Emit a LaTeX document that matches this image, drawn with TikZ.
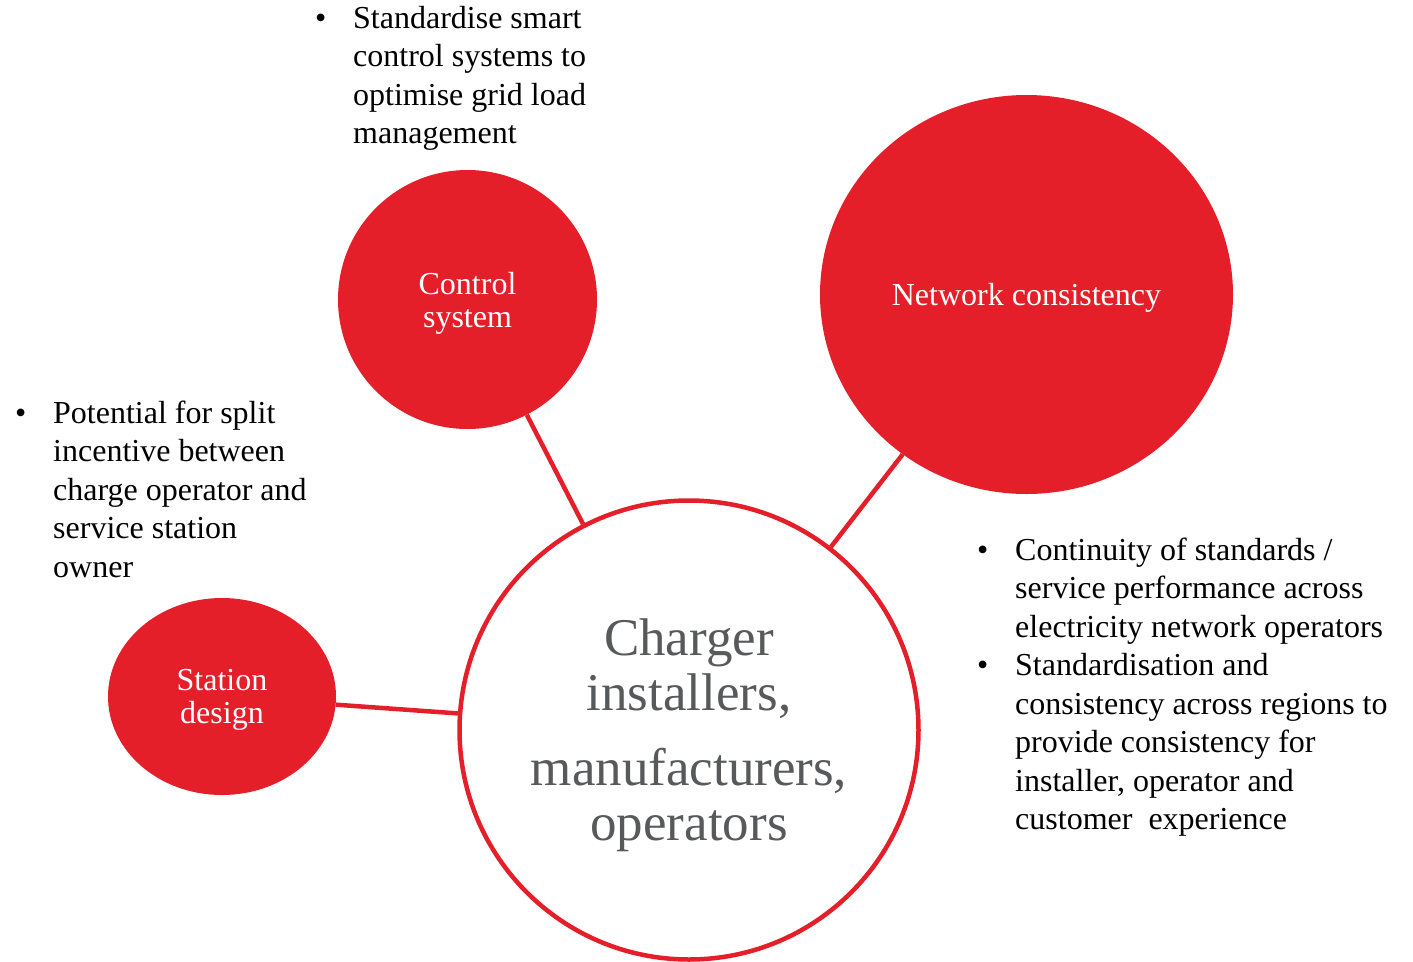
\documentclass[tikz,border=0pt]{standalone}
\usepackage{fontspec}
\setmainfont{Liberation Serif}
\usetikzlibrary{shapes.geometric}
\definecolor{chargered}{HTML}{E41F2A}
\definecolor{hubgrey}{HTML}{58595B}

\newcommand{\bul}{\makebox[38pt][l]{\textbullet}}

\begin{document}
\begin{tikzpicture}[x=1pt,y=-1pt,
  hub node/.style={circle,draw=chargered,line width=4.5pt,fill=white,minimum size=459pt,inner sep=0pt,align=center,text depth=0pt,text=hubgrey,font=\fontsize{53}{55}\selectfont},
  red node/.style={ellipse,fill=chargered,inner sep=0pt,align=center,text depth=0pt,text=white,font=\fontsize{32}{33}\selectfont},
  note node/.style={anchor=base west,inner sep=0pt,font=\fontsize{32}{38.5}\selectfont},
  link/.style={draw=chargered,line width=4.5pt}]

    \useasboundingbox (0,0) rectangle (1413,961);

    \node[hub node] (hub) at (689,730) {Charger\\installers,\\[20pt]manufacturers,\\operators};
    \node[red node, minimum width=259pt, minimum height=259pt] (ctrl) at (467.5,299.5) {Control\\system};
    \node[red node, minimum width=413pt, minimum height=399pt] (net) at (1026.5,294.5) {Network consistency};
    \node[red node, minimum width=228pt, minimum height=197pt] (stat) at (222,696.5) {Station\\design};

    \node[note node] (ctrlnote) at (315,28) {\begin{tabular}[t]{@{}l@{}l@{}}
        \bul & Standardise smart\\
             & control systems to\\
             & optimise grid load\\
             & management
    \end{tabular}};
    \node[note node] (statnote) at (15,423) {\begin{tabular}[t]{@{}l@{}l@{}}
        \bul & Potential for split\\
             & incentive between\\
             & charge operator and\\
             & service station\\
             & owner
    \end{tabular}};
    \node[note node] (netnote) at (977,560) {\begin{tabular}[t]{@{}l@{}l@{}}
        \bul & Continuity of standards /\\
             & service performance across\\
             & electricity network operators\\
        \bul & Standardisation and\\
             & consistency across regions to\\
             & provide consistency for\\
             & installer, operator and\\
             & customer~ experience
    \end{tabular}};

    \path[link]
        (ctrl) edge (hub)
        (net) edge (hub)
        (stat) edge (hub)
    ;
\end{tikzpicture}
\end{document}
